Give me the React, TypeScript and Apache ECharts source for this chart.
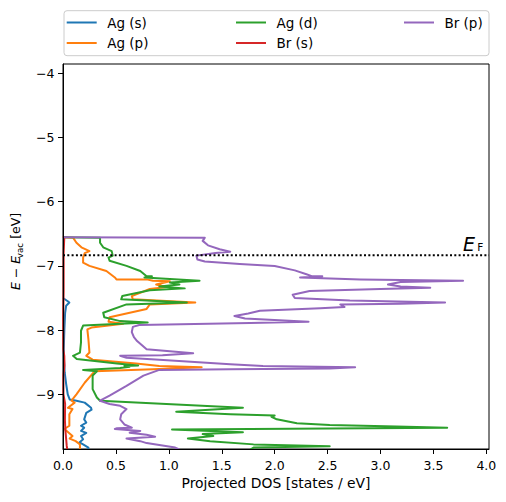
import React, { useEffect, useRef } from 'react';
import * as echarts from 'echarts';

const seriesNames = ['Ag (s)', 'Ag (p)', 'Ag (d)', 'Br (s)', 'Br (p)'];
const seriesColors = ['#1f77b4', '#ff7f0e', '#2ca02c', '#d62728', '#9467bd'];

// [projected DOS, energy]
const agS: number[][] = [
  [0, -7.5], [0.045, -7.55], [0.06, -7.57], [0.03, -7.62], [0.02, -7.73],
  [0.013, -7.99], [0.007, -8.3], [0.01, -8.48], [0.016, -8.66], [0.03, -8.84], [0.045, -9.0],
  [0.063, -9.08], [0.127, -9.1], [0.205, -9.13], [0.265, -9.21], [0.27, -9.24], [0.22, -9.29],
  [0.2, -9.39], [0.22, -9.44], [0.17, -9.49], [0.2, -9.52], [0.17, -9.57], [0.22, -9.6],
  [0.17, -9.65], [0.19, -9.7], [0.155, -9.75], [0.19, -9.78], [0.24, -9.83], [0.24, -9.86],
];

const agP: number[][] = [
  [0, -6.553], [0.095, -6.56], [0.127, -6.64], [0.174, -6.71], [0.25, -6.77],
  [0.205, -6.8], [0.19, -6.87], [0.19, -6.95], [0.25, -7.0], [0.41, -7.08], [0.49, -7.18],
  [0.505, -7.21], [0.79, -7.21], [0.85, -7.23], [1.01, -7.24], [0.88, -7.29], [0.98, -7.33],
  [0.82, -7.36], [0.65, -7.47], [0.66, -7.52], [1.25, -7.57], [0.82, -7.6], [0.79, -7.67],
  [0.44, -7.8], [0.43, -7.87], [0.57, -7.9], [0.27, -7.96], [0.23, -7.99], [0.24, -8.14],
  [0.25, -8.35], [0.22, -8.4], [0.28, -8.46], [0.69, -8.52], [0.91, -8.56], [1.31, -8.58],
  [0.85, -8.61], [0.3, -8.64], [0.205, -8.82], [0.127, -9.0], [0.08, -9.1], [0.11, -9.13],
  [0.047, -9.21], [0.09, -9.23], [0.06, -9.31], [0.06, -9.49], [0.013, -9.54], [0.09, -9.65],
  [0.063, -9.69], [0.12, -9.73], [0.16, -9.78], [0.16, -9.86],
];

const agD: number[][] = [
  [0, -6.553], [0.35, -6.56], [0.35, -6.64], [0.38, -6.71], [0.46, -6.77],
  [0.47, -6.84], [0.43, -6.87], [0.44, -6.92], [0.6, -7.0], [0.73, -7.08], [0.79, -7.16],
  [0.84, -7.16], [0.77, -7.18], [1.29, -7.23], [1.01, -7.26], [1.1, -7.29], [0.91, -7.32],
  [1.15, -7.35], [0.82, -7.38], [0.56, -7.47], [0.55, -7.52], [1.17, -7.57], [0.6, -7.6],
  [0.38, -7.73], [0.39, -7.8], [0.54, -7.86], [0.8, -7.88], [0.19, -7.93], [0.17, -8.01],
  [0.17, -8.19], [0.16, -8.35], [0.095, -8.4], [0.13, -8.45], [0.51, -8.52], [0.71, -8.55],
  [0.58, -8.56], [0.63, -8.57], [0.54, -8.59], [0.19, -8.62], [0.32, -8.64], [0.28, -8.71],
  [0.28, -8.92], [0.32, -9.05], [0.35, -9.1], [1.7, -9.21], [1.07, -9.27], [1.58, -9.31],
  [2.0, -9.33], [1.97, -9.35], [2.02, -9.39], [2.21, -9.45], [2.52, -9.48], [3.15, -9.5],
  [3.63, -9.52], [1.03, -9.55], [1.7, -9.59], [1.32, -9.62], [1.42, -9.65], [1.18, -9.69],
  [1.39, -9.73], [1.8, -9.78], [2.52, -9.81], [1.8, -9.83], [1.77, -9.86],
];

const brS: number[][] = [
  [0, -6.54], [0.012, -6.56], [0.006, -6.8], [0.006, -7.4], [0.002, -7.8],
  [0.003, -8.3], [0.012, -8.4], [0.014, -8.55], [0.004, -8.7], [0.004, -9.0], [0.015, -9.1],
  [0.02, -9.15], [0.018, -9.4], [0.022, -9.55], [0.03, -9.7], [0.035, -9.8], [0.04, -9.86],
];

const brP: number[][] = [
  [0, -6.553], [1.34, -6.56], [1.32, -6.61], [1.37, -6.68], [1.48, -6.74],
  [1.58, -6.78], [1.44, -6.8], [1.26, -6.84], [1.27, -6.9], [1.34, -6.93], [1.67, -6.97],
  [2.0, -7.0], [2.19, -7.07], [2.3, -7.13], [2.35, -7.16], [2.45, -7.16], [2.24, -7.18],
  [2.81, -7.21], [3.78, -7.23], [3.19, -7.25], [3.07, -7.29], [3.19, -7.32], [3.47, -7.34],
  [3.0, -7.36], [2.33, -7.39], [2.17, -7.45], [2.19, -7.5], [2.71, -7.54], [3.61, -7.57],
  [3.19, -7.59], [2.62, -7.6], [2.66, -7.64], [2.43, -7.66], [1.86, -7.7], [1.75, -7.74],
  [1.62, -7.78], [1.72, -7.82], [2.32, -7.87], [1.77, -7.89], [0.72, -7.92], [0.66, -7.95],
  [0.65, -8.03], [0.67, -8.11], [0.7, -8.17], [0.79, -8.3], [1.23, -8.36], [0.94, -8.39],
  [0.54, -8.4], [0.6, -8.43], [0.91, -8.46], [1.58, -8.53], [1.89, -8.56], [2.76, -8.58],
  [2.52, -8.6], [1.58, -8.61], [0.91, -8.62], [0.76, -8.71], [0.6, -8.87], [0.44, -9.02],
  [0.35, -9.1], [0.44, -9.15], [0.54, -9.18], [0.6, -9.23], [0.55, -9.31], [0.54, -9.39],
  [0.58, -9.47], [0.65, -9.52], [0.51, -9.53], [0.49, -9.54], [0.73, -9.57], [0.63, -9.6],
  [0.79, -9.63], [0.87, -9.66], [0.6, -9.69], [0.73, -9.73], [0.79, -9.76], [0.91, -9.79],
  [1.06, -9.83], [1.1, -9.86],
];

const fermiLevel = -6.833;
const xTicks = [0, 0.5, 1, 1.5, 2, 2.5, 3, 3.5, 4];
const yTicks = [-9, -8, -7, -6, -5, -4];
const xRange = [0, 4.025];
const yRange = [-9.852, -3.855];
const legendColumns = [
  ['Ag (s)', 'Ag (p)'],
  ['Ag (d)', 'Br (s)'],
  ['Br (p)'],
];

const FONT = 'DejaVu Sans';

export default function App() {
  const ref = useRef<HTMLDivElement>(null);

  useEffect(() => {
    if (!ref.current) return;
    const chart = echarts.init(ref.current, undefined, { renderer: 'svg' });
    const allData = [agS, agP, agD, brS, brP];

    const lineSeries = seriesNames.map((name, i) => ({
      name,
      type: 'line',
      data: allData[i],
      showSymbol: false,
      symbol: 'none',
      color: seriesColors[i],
      lineStyle: { color: seriesColors[i], width: 2, join: 'round' },
      clip: true,
      z: 2,
    }));

    const fermiSeries = {
      name: 'EF',
      type: 'line',
      data: [[xRange[0], fermiLevel], [xRange[1], fermiLevel]],
      showSymbol: false,
      symbol: 'none',
      lineStyle: { color: '#000', width: 2, type: [2, 2.3] },
      z: 3,
    };

    const legendLefts = [66.7, 236, 404];
    const legends = legendColumns.map((col, i) => ({
      data: col,
      orient: 'vertical',
      left: legendLefts[i],
      top: 14.5,
      padding: 0,
      itemWidth: 30,
      itemHeight: 2,
      itemGap: 4.5,
      icon: 'rect',
      selectedMode: false,
      textStyle: {
        fontFamily: FONT,
        fontSize: 13.5,
        color: '#000',
        lineHeight: 16,
        padding: [0, 0, 0, 5.5],
      },
    }));

    const yLabelFont = 12.5;
    const subFont = 8.75;
    const w1 = 31.9;
    const w2 = 15.4;
    const total = 77.2;
    const x0 = -total / 2;

    chart.setOption({
      animation: false,
      grid: {
        left: 63,
        top: 64,
        width: 426,
        height: 385,
        show: true,
        borderColor: '#000',
        borderWidth: 1,
        backgroundColor: 'transparent',
      },
      legend: legends,
      xAxis: {
        type: 'value',
        min: xRange[0],
        max: xRange[1],
        z: 5,
        axisLine: { show: true, onZero: false, lineStyle: { color: '#000', width: 1 } },
        axisTick: { show: true, length: 5, lineStyle: { color: '#000', width: 1 }, customValues: xTicks },
        axisLabel: {
          customValues: xTicks,
          formatter: (v: number) => v.toFixed(1),
          color: '#000',
          fontFamily: FONT,
          fontSize: 12.5,
          margin: 9.5,
        },
        splitLine: { show: false },
        name: 'Projected DOS [states / eV]',
        nameLocation: 'middle',
        nameGap: 25,
        nameTextStyle: { fontFamily: FONT, fontSize: 13.9, color: '#000' },
      },
      yAxis: {
        type: 'value',
        min: yRange[0],
        max: yRange[1],
        z: 5,
        axisLine: { show: true, onZero: false, lineStyle: { color: '#000', width: 1 } },
        axisTick: { show: true, length: 5, lineStyle: { color: '#000', width: 1 }, customValues: yTicks },
        axisLabel: {
          customValues: yTicks,
          formatter: (v: number) => (v < 0 ? '\u2212' + String(-v) : String(v)),
          color: '#000',
          fontFamily: FONT,
          fontSize: 12.5,
          margin: 8.5,
        },
        splitLine: { show: false },
      },
      graphic: [
        {
          type: 'rect',
          z: 0,
          shape: { x: 64, y: 10.7, width: 425, height: 45, r: 3 },
          style: { fill: 'rgba(255,255,255,0.8)', stroke: '#cccccc', lineWidth: 1 },
        },
        {
          type: 'text',
          z: 10,
          x: 463,
          y: 244.3,
          style: {
            text: 'E',
            fontFamily: FONT,
            fontStyle: 'italic',
            fontSize: 19,
            fill: '#000',
            align: 'left',
            verticalAlign: 'middle',
          },
        },
        {
          type: 'text',
          z: 10,
          x: 477.3,
          y: 247.2,
          style: {
            text: 'F',
            fontFamily: FONT,
            fontSize: 10.5,
            fill: '#000',
            align: 'left',
            verticalAlign: 'middle',
          },
        },
        {
          type: 'group',
          x: 15.2,
          y: 251.5,
          rotation: Math.PI / 2,
          children: [
            {
              type: 'text',
              x: x0,
              y: 0,
              style: {
                text: '{i|E} \u2212 {i|E}',
                rich: { i: { fontStyle: 'italic', fontFamily: FONT, fontSize: yLabelFont } },
                fontFamily: FONT,
                fontSize: yLabelFont,
                fill: '#000',
                align: 'left',
                verticalAlign: 'middle',
              },
            },
            {
              type: 'text',
              x: x0 + w1,
              y: 4.3,
              style: {
                text: 'vac',
                fontFamily: FONT,
                fontSize: subFont,
                fill: '#000',
                align: 'left',
                verticalAlign: 'middle',
              },
            },
            {
              type: 'text',
              x: x0 + w1 + w2,
              y: 0,
              style: {
                text: ' [eV]',
                fontFamily: FONT,
                fontSize: yLabelFont,
                fill: '#000',
                align: 'left',
                verticalAlign: 'middle',
              },
            },
          ],
        },
      ],
      series: [...lineSeries, fermiSeries],
    });

    return () => {
      chart.dispose();
    };
  }, []);

  return (
    <div
      ref={ref}
      style={{ position: 'absolute', left: 0, top: 0, width: 506, height: 502 }}
    />
  );
}
